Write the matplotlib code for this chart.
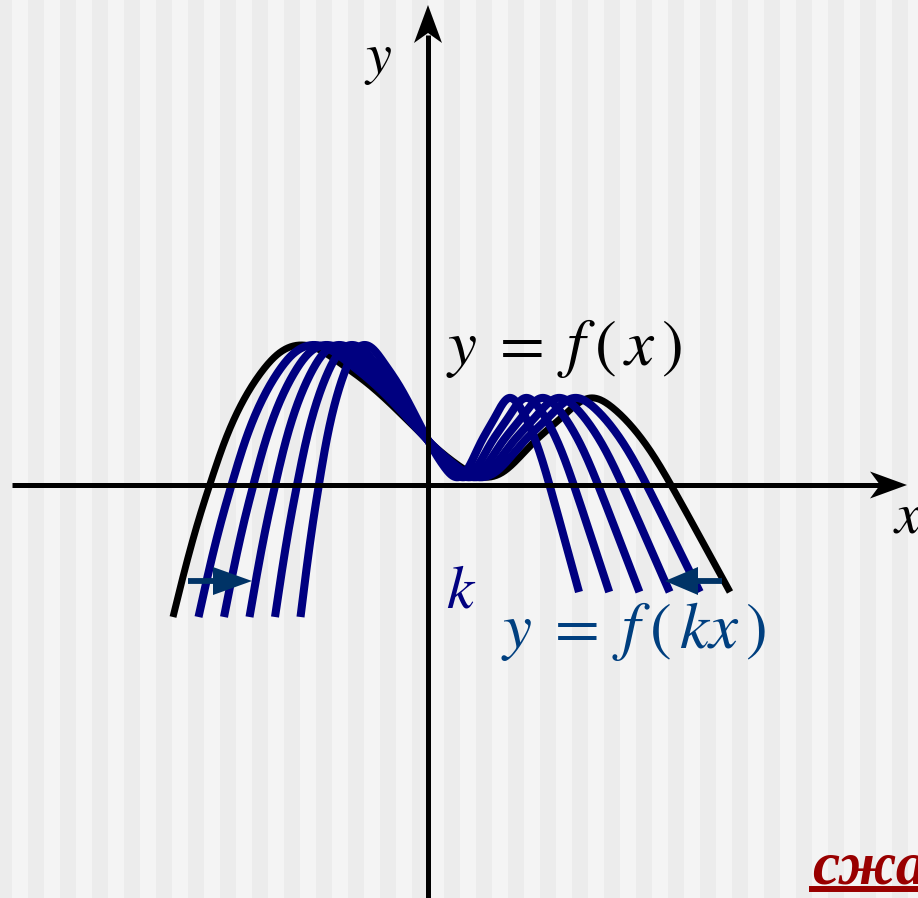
import numpy as np
import matplotlib.pyplot as plt
from matplotlib.patches import Polygon

plt.rcParams['mathtext.fontset'] = 'stix'

# points of y = f(x) (1 unit = 100 px)
knot_x = [-2.55, -2.43, -2.30, -2.18, -2.05, -1.86, -1.68, -1.50, -1.28, -1.10, -0.88,
          -0.61, -0.28, 0.05, 0.30, 0.50, 0.75, 1.05, 1.32, 1.62, 1.85, 2.05, 2.25,
          2.43, 2.62, 2.85, 3.02]
knot_y = [-1.32, -0.84, -0.37, 0.01, 0.39, 0.82, 1.11, 1.31, 1.40, 1.36, 1.22,
          1.02, 0.72, 0.40, 0.20, 0.09, 0.13, 0.42, 0.66, 0.87, 0.77, 0.57, 0.30,
          0.0, -0.34, -0.76, -1.07]
x_start = -2.55
x_end = 3.02
# compression factors k for y = f(kx)
k_values = [1/0.9, 1/0.8, 1/0.7, 1/0.6, 1/0.5]


def make_spline(xk, yk):
    # natural cubic spline through the read points
    xk = np.asarray(xk, float)
    yk = np.asarray(yk, float)
    n = len(xk)
    h = np.diff(xk)
    A = np.zeros((n, n))
    r = np.zeros(n)
    A[0, 0] = 1
    A[-1, -1] = 1
    for i in range(1, n - 1):
        A[i, i - 1] = h[i - 1]
        A[i, i] = 2 * (h[i - 1] + h[i])
        A[i, i + 1] = h[i]
        r[i] = 3 * ((yk[i + 1] - yk[i]) / h[i] - (yk[i] - yk[i - 1]) / h[i - 1])
    c = np.linalg.solve(A, r)
    b = (yk[1:] - yk[:-1]) / h - h * (2 * c[:-1] + c[1:]) / 3
    d = (c[1:] - c[:-1]) / (3 * h)

    def f(x):
        x = np.asarray(x, float)
        i = np.clip(np.searchsorted(xk, x) - 1, 0, n - 2)
        t = x - xk[i]
        return yk[i] + b[i] * t + c[i] * t ** 2 + d[i] * t ** 3
    return f


f = make_spline(knot_x, knot_y)


def px(v):
    return (v - 428) / 100.0


def py(v):
    return (485 - v) / 100.0


def head(ax, tip, d, length, width, notch, color):
    tx, ty = tip
    dx, dy = d
    nx, ny = -dy, dx
    bx, by = tx - dx * length, ty - dy * length
    pts = [(tx, ty),
           (bx + nx * width / 2, by + ny * width / 2),
           (tx - dx * (length - notch), ty - dy * (length - notch)),
           (bx - nx * width / 2, by - ny * width / 2)]
    ax.add_patch(Polygon(pts, closed=True, facecolor=color, edgecolor='none', zorder=6))


fig = plt.figure(figsize=(9.18, 8.98), dpi=100, facecolor='#ececec')
ax = fig.add_axes([0, 0, 1, 1])
ax.set_facecolor('#ececec')
ax.set_xlim(px(0), px(918))
ax.set_ylim(py(898), py(0))
ax.axis('off')

# striped background
for n in range(30):
    ax.axvspan(px(12 + 32 * n), px(28 + 32 * n), color='#f4f4f4', lw=0, zorder=0)

# axes with arrows
ax.plot([px(12), px(880)], [0, 0], color='black', lw=3.6, solid_capstyle='butt', zorder=5)
head(ax, (px(907), 0), (1, 0), 0.37, 0.27, 0.10, 'black')
ax.plot([0, 0], [py(898), py(35)], color='black', lw=3.6, solid_capstyle='butt', zorder=5)
head(ax, (0, py(5)), (0, 1), 0.38, 0.28, 0.10, 'black')

# original curve
xs = np.linspace(x_start, x_end, 800)
ax.plot(xs, f(xs), color='black', lw=5, solid_capstyle='butt', zorder=3)

# compressed curves
for k in k_values:
    xk = np.linspace(x_start / k, x_end / k, 800)
    ax.plot(xk, f(k * xk), color='#000080', lw=5.8, solid_capstyle='butt', zorder=4)

# small arrows showing the compression
ac = '#003366'
ax.plot([px(188), px(220)], [py(581), py(581)], color=ac, lw=4.2, solid_capstyle='butt', zorder=6)
head(ax, (px(252), py(581)), (1, 0), 0.39, 0.28, 0.0, ac)
ax.plot([px(722), px(690)], [py(581), py(581)], color=ac, lw=4.2, solid_capstyle='butt', zorder=6)
head(ax, (px(665), py(581)), (-1, 0), 0.33, 0.28, 0.0, ac)

# labels
ax.text(px(378), py(58), r'$y$', fontsize=42, ha='center', va='center', zorder=7)
ax.text(px(893), py(516), r'$x$', fontsize=42, ha='left', va='center', zorder=7)
ax.text(px(446), py(348), r'$y\;=\;f\:(\,x\,)$', fontsize=47, ha='left', va='center', zorder=7)
ax.text(px(461), py(591), r'$k$', fontsize=44, color='#000080', ha='center', va='center', zorder=7)
ax.text(px(501), py(631), r'$y\;=\;f\:(\,kx\,)$', fontsize=47, color='#003f7f', ha='left', va='center', zorder=7)

ax.text(px(812), py(883), 'сжатие', fontsize=44, color='#990000', family='Liberation Serif',
        style='italic', weight='bold', ha='left', va='baseline', zorder=7)
ax.plot([px(809), px(1000)], [py(889), py(889)], color='#990000', lw=4.3, solid_capstyle='butt', zorder=7)

fig.savefig('out.png', dpi=100, facecolor=fig.get_facecolor())
